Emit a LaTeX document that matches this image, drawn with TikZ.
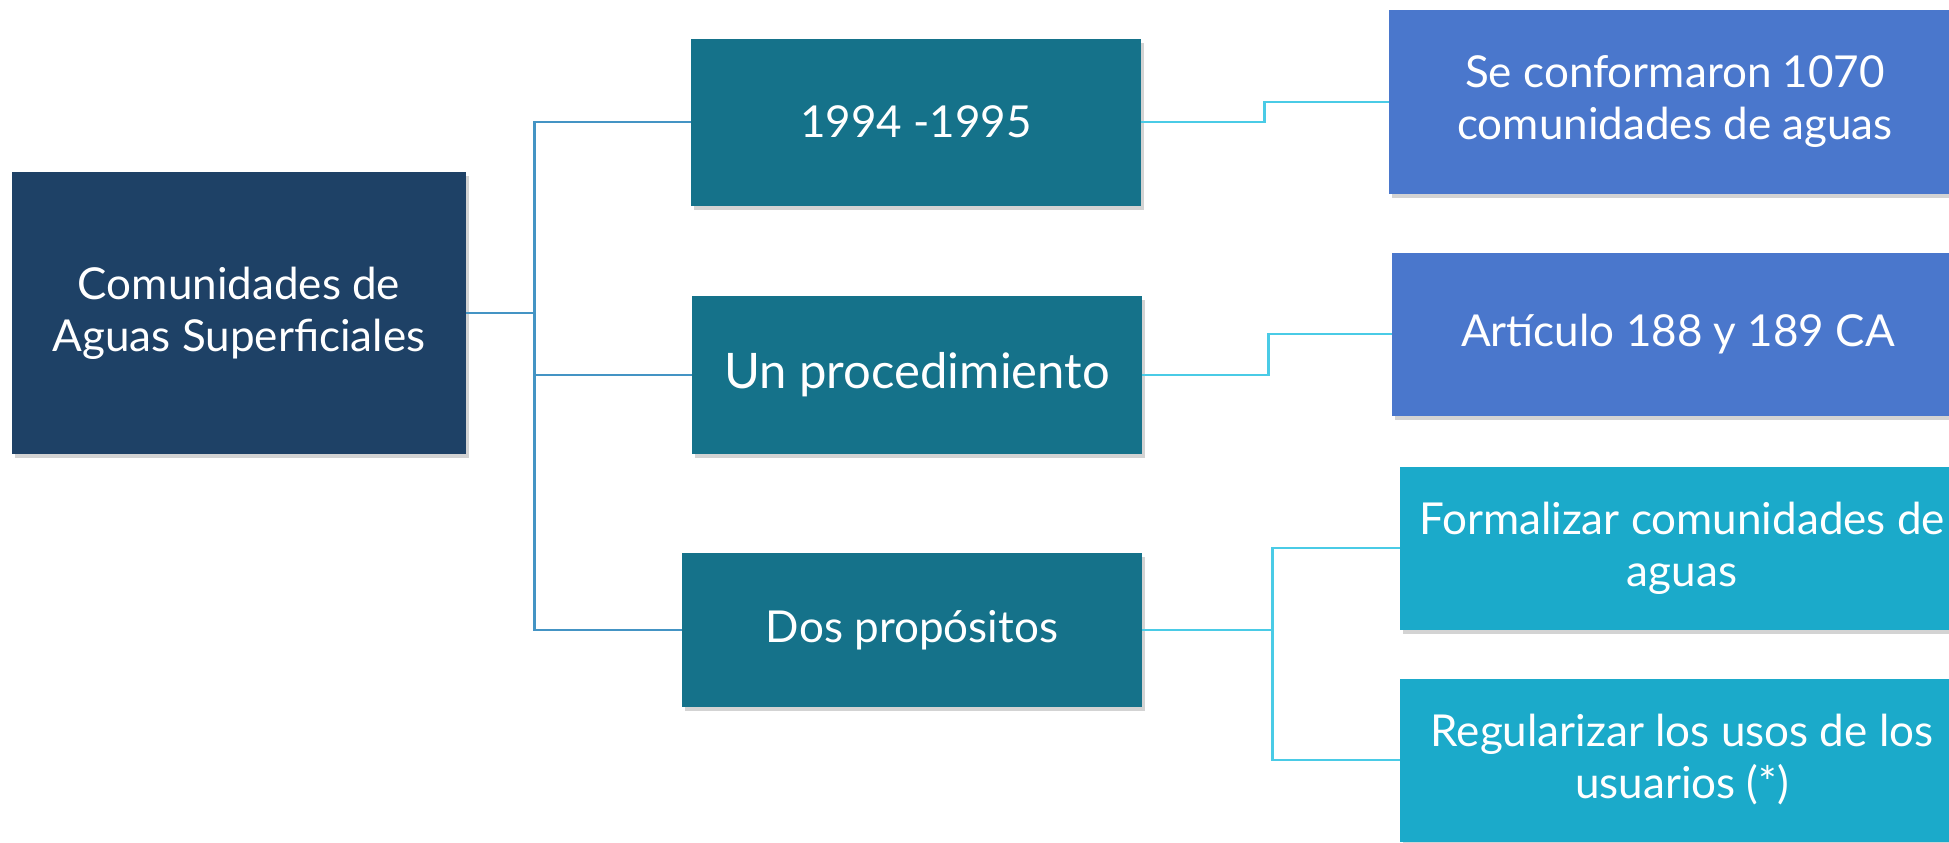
\documentclass[tikz,border=0pt]{standalone}
\usepackage{fontspec}
\setmainfont{Lato}
\usepackage{tikz}
\usepackage{xcolor}
\usetikzlibrary{shadows}
\definecolor{navybox}{HTML}{1E4166}
\definecolor{tealbox}{HTML}{15728A}
\definecolor{bluebox}{HTML}{4A77CC}
\definecolor{cyanbox}{HTML}{1BAACA}
\definecolor{trunkline}{HTML}{4494C4}
\definecolor{branchline}{HTML}{4ACBE6}
\tikzstyle{box} = [rectangle, text=white, align=center, inner sep=0pt, font=\fontsize{22}{26}\selectfont, drop shadow={shadow xshift=1.5pt, shadow yshift=-2pt, opacity=0.35}]
\tikzstyle{rootbox} = [box, fill=navybox, minimum width=227pt, minimum height=141pt]
\tikzstyle{midbox} = [box, fill=tealbox, minimum width=225pt, minimum height=79pt]
\tikzstyle{factbox} = [box, fill=bluebox, minimum width=286pt, minimum height=81.5pt]
\tikzstyle{aimbox} = [box, fill=cyanbox, minimum width=282pt, minimum height=81.5pt]
\tikzstyle{trunk} = [draw=trunkline, line width=1.1pt]
\tikzstyle{branch} = [draw=branchline, line width=1.1pt]

\begin{document}
\begin{tikzpicture}[x=0.5pt,y=-0.5pt]
  \useasboundingbox (0,0) rectangle (1949,842);

  \node[rootbox] (C_AS) at (239,313) {Comunidades de\\Aguas Superficiales};
  \node[midbox, minimum height=83.5pt] (Y_94) at (916,122) {1994 -1995};
  \node[midbox, font=\fontsize{24.5}{28}\selectfont] (U_P) at (917,375) {Un procedimiento};
  \node[midbox, minimum width=230pt, minimum height=77pt] (D_P) at (912,630) {Dos propósitos};
  \node[factbox, minimum height=92pt] (S_C) at (1675,102) {Se conformaron 1070\\comunidades de aguas};
  \node[factbox] (A_CA) at (1678,334) {Artículo 188 y 189 CA};
  \node[aimbox] (F_C) at (1682,548) {Formalizar comunidades de\\aguas};
  \node[aimbox] (R_U) at (1682,760) {Regularizar los usos de los\\usuarios (*)};

  \draw[trunk] (C_AS.east) -- ++(68,0) coordinate (fork) |- (Y_94.west);
  \draw[trunk] (fork) |- (U_P.west);
  \draw[trunk] (fork) |- (D_P.west);

  \draw[branch] (Y_94.east) -- ++(123,0) |- (S_C.west);
  \draw[branch] (U_P.east) -- ++(126,0) |- (A_CA.west);
  \draw[branch] (D_P.east) -- ++(130,0) coordinate (split) |- (F_C.west);
  \draw[branch] (split) |- (R_U.west);
\end{tikzpicture}
\end{document}
